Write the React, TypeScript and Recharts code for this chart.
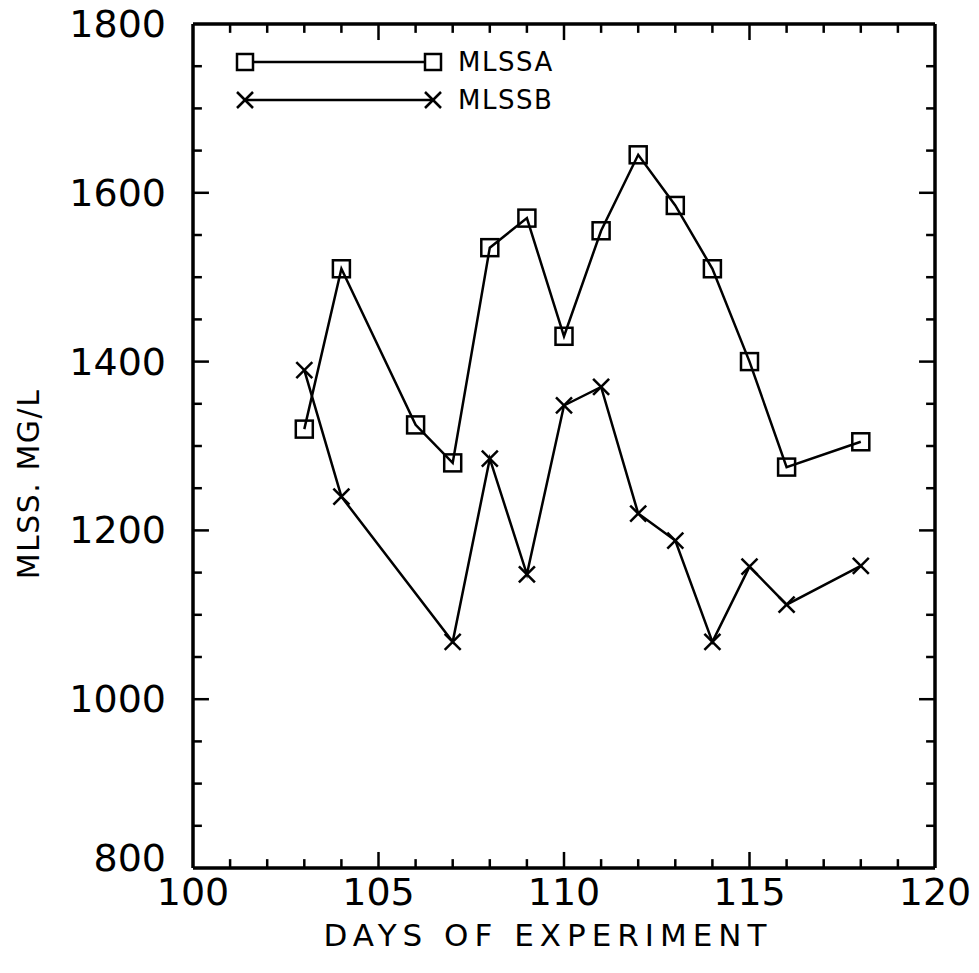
import { LineChart, Line, XAxis, YAxis, Legend, ReferenceLine } from 'recharts';

// days on which each series was sampled
const daysA = [103, 104, 106, 107, 108, 109, 110, 111, 112, 113, 114, 115, 116, 118];
const mlssA = [1320, 1510, 1325, 1280, 1535, 1570, 1430, 1555, 1645, 1585, 1510, 1400, 1275, 1305];

const daysB = [103, 104, 107, 108, 109, 110, 111, 112, 113, 114, 115, 116, 118];
const mlssB = [1390, 1240, 1068, 1285, 1148, 1348, 1370, 1220, 1188, 1068, 1157, 1112, 1158];

const xTicks = Array.from({ length: 21 }, (_, i) => 100 + i);
const yTicks = Array.from({ length: 21 }, (_, i) => 800 + i * 50);
const xLabels = [100, 105, 110, 115, 120];
const yLabels = [800, 1000, 1200, 1400, 1600, 1800];

const dataA = daysA.map((d, i) => ({ day: d, value: mlssA[i] }));
const dataB = daysB.map((d, i) => ({ day: d, value: mlssB[i] }));

const FONT = '"DejaVu Sans", sans-serif';

// tick mark lengths in data units (~16px major, ~9px minor)
const X_MAJ = 19, X_MIN = 10.5;
const Y_MAJ = 0.43, Y_MIN = 0.24;

const SquareDot = (props: any) => {
  const { cx, cy } = props;
  if (cx == null || cy == null) return null;
  return <rect x={cx - 8.5} y={cy - 8.5} width={17} height={17} fill="none" stroke="#000" strokeWidth={2.5} />;
};

const CrossDot = (props: any) => {
  const { cx, cy } = props;
  if (cx == null || cy == null) return null;
  return (
    <g stroke="#000" strokeWidth={2.5}>
      <line x1={cx - 8} y1={cy - 8} x2={cx + 8} y2={cy + 8} />
      <line x1={cx - 8} y1={cy + 8} x2={cx + 8} y2={cy - 8} />
    </g>
  );
};

const BottomTick = ({ x, y, payload }: any) => (
  <text x={x} y={y + 24} textAnchor="middle" dominantBaseline="central" fontSize={38} fontFamily={FONT} fill="#000">
    {payload.value}
  </text>
);

const LeftTick = ({ x, y, payload }: any) => (
  <text
    x={x - 27}
    y={payload.value === 800 ? y - 10 : y}
    textAnchor="end"
    dominantBaseline="central"
    fontSize={38}
    fontFamily={FONT}
    fill="#000"
  >
    {payload.value}
  </text>
);

const XTitle = ({ viewBox }: any) => (
  <text
    x={viewBox.x + viewBox.width / 2 - 16}
    y={viewBox.y + 67}
    textAnchor="middle"
    dominantBaseline="central"
    fontSize={31}
    fontFamily={FONT}
    letterSpacing={6}
    fill="#000"
  >
    DAYS OF EXPERIMENT
  </text>
);

const YTitle = ({ viewBox }: any) => {
  const cx = viewBox.x + 28;
  const cy = viewBox.y + viewBox.height / 2 + 38;
  return (
    <text
      x={cx}
      y={cy}
      transform={`rotate(-90 ${cx} ${cy})`}
      textAnchor="middle"
      dominantBaseline="central"
      fontSize={30}
      fontFamily={FONT}
      letterSpacing={1.5}
      fill="#000"
    >
      MLSS. MG/L
    </text>
  );
};

const LegendBox = () => (
  <svg width={360} height={80}>
    <g stroke="#000" strokeWidth={2.5} fill="none">
      <line x1={15} y1={17} x2={203} y2={17} />
      <rect x={7} y={9} width={16} height={16} fill="#fff" />
      <rect x={195} y={9} width={16} height={16} fill="#fff" />
      <line x1={15} y1={55} x2={203} y2={55} />
      <line x1={7} y1={47} x2={23} y2={63} />
      <line x1={7} y1={63} x2={23} y2={47} />
      <line x1={195} y1={47} x2={211} y2={63} />
      <line x1={195} y1={63} x2={211} y2={47} />
    </g>
    <text x={228} y={17} dominantBaseline="central" fontSize={26} fontFamily={FONT} letterSpacing={1.5} fill="#000">
      MLSSA
    </text>
    <text x={228} y={55} dominantBaseline="central" fontSize={26} fontFamily={FONT} letterSpacing={1.5} fill="#000">
      MLSSB
    </text>
  </svg>
);

const tickStyle = { stroke: '#000', strokeWidth: 2.5 };

export default function App() {
  const xInner = xTicks.slice(1, -1);
  const yInner = yTicks.slice(1, -1);
  return (
    <div style={{ position: 'absolute', left: 0, top: 0, background: '#fff' }}>
      <LineChart width={979} height={973} margin={{ top: 23, right: 43, bottom: 0, left: 0 }}>
        <XAxis
          xAxisId="bottom"
          dataKey="day"
          type="number"
          domain={[100, 120]}
          ticks={xLabels}
          interval={0}
          height={105}
          tickSize={0}
          tickMargin={0}
          tick={<BottomTick />}
          axisLine={{ stroke: '#000', strokeWidth: 3.5 }}
          tickLine={false}
          label={<XTitle />}
        />
        <XAxis
          xAxisId="top"
          orientation="top"
          type="number"
          domain={[100, 120]}
          height={1}
          tick={false}
          axisLine={{ stroke: '#000', strokeWidth: 3.5 }}
          tickLine={false}
        />
        <YAxis
          yAxisId="left"
          type="number"
          domain={[800, 1800]}
          ticks={yLabels}
          interval={0}
          width={193}
          tickSize={0}
          tickMargin={0}
          tick={<LeftTick />}
          axisLine={{ stroke: '#000', strokeWidth: 3.5 }}
          tickLine={false}
          label={<YTitle />}
        />
        <YAxis
          yAxisId="right"
          orientation="right"
          type="number"
          domain={[800, 1800]}
          width={1}
          tick={false}
          axisLine={{ stroke: '#000', strokeWidth: 3.5 }}
          tickLine={false}
        />
        {xInner.map((t) => {
          const len = t % 5 === 0 ? X_MAJ : X_MIN;
          return [
            <ReferenceLine
              key={`xb-${t}`}
              xAxisId="bottom"
              yAxisId="left"
              segment={[{ x: t, y: 800 }, { x: t, y: 800 + len }]}
              {...tickStyle}
            />,
            <ReferenceLine
              key={`xt-${t}`}
              xAxisId="bottom"
              yAxisId="left"
              segment={[{ x: t, y: 1800 }, { x: t, y: 1800 - len }]}
              {...tickStyle}
            />,
          ];
        })}
        {yInner.map((v) => {
          const len = v % 200 === 0 ? Y_MAJ : Y_MIN;
          return [
            <ReferenceLine
              key={`yl-${v}`}
              xAxisId="bottom"
              yAxisId="left"
              segment={[{ x: 100, y: v }, { x: 100 + len, y: v }]}
              {...tickStyle}
            />,
            <ReferenceLine
              key={`yr-${v}`}
              xAxisId="bottom"
              yAxisId="left"
              segment={[{ x: 120, y: v }, { x: 120 - len, y: v }]}
              {...tickStyle}
            />,
          ];
        })}
        <Line
          xAxisId="bottom"
          yAxisId="left"
          data={dataA}
          dataKey="value"
          name="MLSSA"
          stroke="#000"
          strokeWidth={2.5}
          dot={<SquareDot />}
          isAnimationActive={false}
        />
        <Line
          xAxisId="bottom"
          yAxisId="left"
          data={dataB}
          dataKey="value"
          name="MLSSB"
          stroke="#000"
          strokeWidth={2.5}
          dot={<CrossDot />}
          isAnimationActive={false}
        />
        <Legend
          layout="horizontal"
          verticalAlign="middle"
          align="center"
          content={<LegendBox />}
          wrapperStyle={{ position: 'absolute', left: 230, top: 45, width: 360, height: 80 }}
        />
      </LineChart>
    </div>
  );
}
